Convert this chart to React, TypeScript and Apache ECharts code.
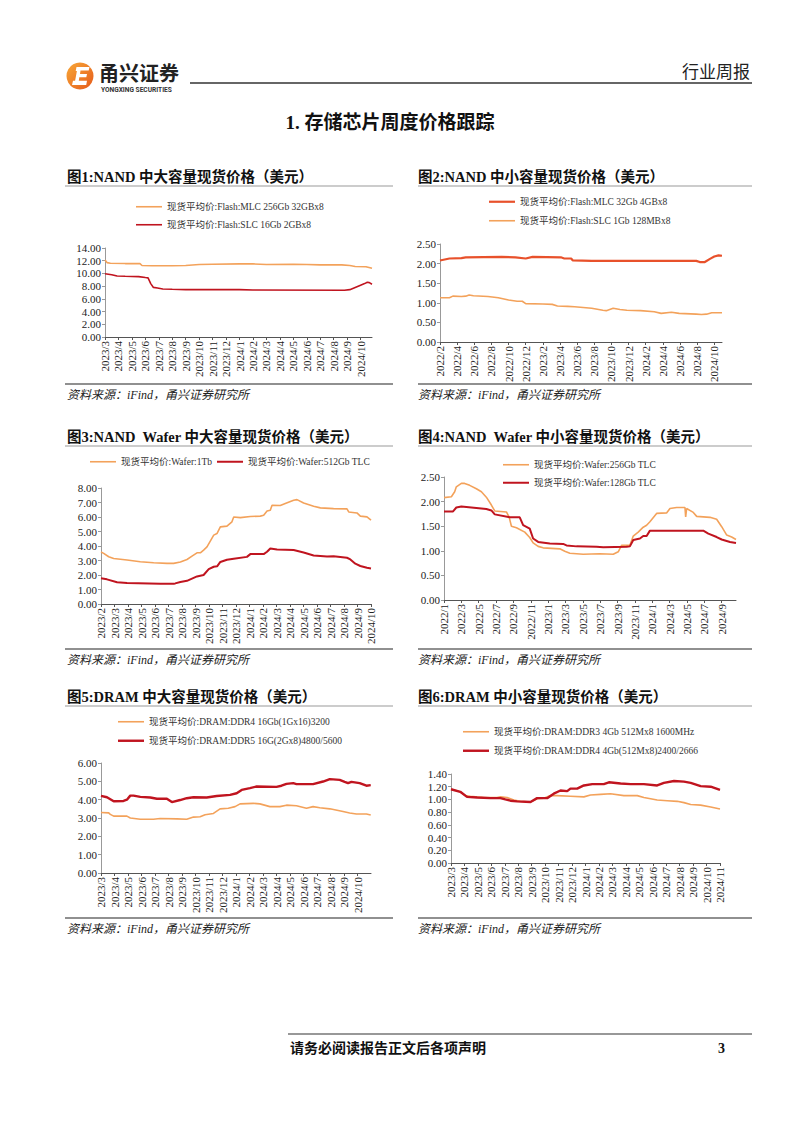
import React, { useEffect, useRef } from "react";
import * as echarts from "echarts";

const FONT = "'Liberation Serif', 'Noto Sans CJK SC', serif";
const ORANGE = "#F3A25B";
const RED = "#C0141F";
const RED_ORANGE = "#E8512B";

// ---------- Chart 1: NAND 中大容量 ----------
const c1Ticks = ["2023/3","2023/4","2023/5","2023/6","2023/7","2023/8","2023/9","2023/10","2023/11","2023/12","2024/1","2024/2","2024/3","2024/4","2024/5","2024/6","2024/7","2024/8","2024/9","2024/10"];
const c1Mlc = [[0,12.1],[0.15,11.7],[0.4,11.6],[1.5,11.55],[2.6,11.55],[2.75,11.25],[3.5,11.2],[5,11.2],[6,11.25],[7,11.4],[8,11.45],[10,11.5],[11,11.5],[12,11.4],[14,11.45],[15,11.4],[16,11.35],[17.6,11.35],[18.2,11.25],[18.6,11.1],[19.4,11.05],[19.85,10.8]];
const c1Slc = [[0,9.95],[0.5,9.8],[0.9,9.6],[1.5,9.55],[2.5,9.5],[3.0,9.35],[3.2,9.3],[3.4,8.4],[3.6,7.8],[3.9,7.7],[4.3,7.55],[5,7.5],[6,7.45],[10,7.45],[11,7.4],[17.8,7.35],[18.2,7.45],[18.6,7.8],[19.0,8.15],[19.3,8.4],[19.5,8.6],[19.65,8.55],[19.85,8.3]];

// ---------- Chart 2: NAND 中小容量 ----------
const c2Ticks = ["2022/2","2022/4","2022/6","2022/8","2022/10","2022/12","2023/2","2023/4","2023/6","2023/8","2023/10","2023/12","2024/2","2024/4","2024/6","2024/8","2024/10"];
const c2Mlc = [[0,2.08],[1.1,2.13],[2.5,2.14],[3,2.16],[7.2,2.17],[8.8,2.16],[10,2.13],[10.8,2.17],[14.1,2.16],[14.5,2.13],[15.3,2.13],[15.5,2.08],[17.7,2.07],[29.9,2.07],[30.3,2.04],[30.9,2.04],[31.5,2.12],[32,2.18],[32.5,2.21],[32.9,2.2]];
const c2Slc = [[0,1.13],[1.1,1.13],[1.5,1.17],[2.5,1.16],[3,1.17],[3.4,1.2],[3.9,1.18],[5.6,1.16],[6.8,1.13],[8,1.07],[9,1.04],[9.6,1.04],[10,0.98],[12,0.97],[13.1,0.96],[13.7,0.92],[14.9,0.91],[15.7,0.9],[17.7,0.86],[19,0.81],[19.4,0.8],[20.2,0.86],[21,0.83],[21.8,0.81],[23.4,0.8],[25,0.77],[25.8,0.73],[27,0.76],[27.9,0.73],[29.9,0.71],[30.5,0.7],[31.1,0.71],[31.7,0.745],[32.9,0.745]];

// ---------- Chart 3: NAND Wafer 中大容量 ----------
const c3Ticks = ["2023/2","2023/3","2023/4","2023/5","2023/6","2023/7","2023/8","2023/9","2023/10","2023/11","2023/12","2024/1","2024/2","2024/3","2024/4","2024/5","2024/6","2024/7","2024/8","2024/9","2024/10"];
const c3Tb1 = [[0,3.58],[0.2,3.49],[0.57,3.26],[0.94,3.14],[1.93,3.03],[2.91,2.91],[3.9,2.84],[4.89,2.8],[5.38,2.8],[5.88,2.9],[6.37,3.07],[6.74,3.3],[7.11,3.53],[7.36,3.53],[7.6,3.72],[7.85,3.94],[8.35,4.75],[8.59,4.86],[8.84,5.32],[9.33,5.37],[9.7,5.67],[9.83,6.0],[10.32,5.96],[11.06,6.03],[11.8,6.06],[12.05,6.12],[12.3,6.42],[12.54,6.47],[12.67,6.81],[13.28,6.79],[13.65,6.93],[14.27,7.16],[14.52,7.2],[15.01,6.97],[15.75,6.74],[16.25,6.63],[17.23,6.58],[18.22,6.56],[18.35,6.35],[18.96,6.28],[19.21,6.06],[19.7,6.01],[20,5.78]];
const c3Gb512 = [[0,1.77],[0.44,1.7],[1.19,1.5],[1.93,1.44],[4.4,1.4],[5.38,1.4],[5.5,1.42],[5.88,1.52],[6.37,1.6],[7.11,1.9],[7.6,2.0],[7.98,2.4],[8.35,2.57],[8.6,2.6],[8.84,2.9],[9.33,3.05],[9.83,3.12],[10.81,3.25],[11.06,3.44],[12.05,3.44],[12.3,3.6],[12.54,3.83],[13.04,3.76],[14.27,3.72],[15.01,3.55],[15.75,3.35],[16.74,3.28],[17.23,3.3],[18.22,3.19],[18.47,3.07],[18.84,2.78],[19.21,2.62],[19.7,2.5],[20,2.45]];

// ---------- Chart 4: NAND Wafer 中小容量 ----------
const c4Ticks = ["2022/1","2022/3","2022/5","2022/7","2022/9","2022/11","2023/1","2023/3","2023/5","2023/7","2023/9","2023/11","2024/1","2024/3","2024/5","2024/7","2024/9"];
const c4Gb256 = [[0,2.08],[0.85,2.1],[1.23,2.2],[1.42,2.3],[2.0,2.37],[2.38,2.37],[2.96,2.33],[3.73,2.26],[4.31,2.2],[4.88,2.09],[5.46,1.93],[5.85,1.81],[7.19,1.79],[7.5,1.69],[7.77,1.5],[8.35,1.47],[9.31,1.38],[9.88,1.27],[10.27,1.16],[10.85,1.09],[11.42,1.06],[13.35,1.04],[13.92,0.99],[14.5,0.95],[16.04,0.93],[17.96,0.94],[19.5,0.93],[20.08,0.98],[20.46,1.11],[21.42,1.11],[21.81,1.3],[22.38,1.38],[22.96,1.48],[23.35,1.52],[23.73,1.59],[24.5,1.76],[25.65,1.77],[26.04,1.86],[26.81,1.88],[27.77,1.88],[27.85,1.69],[27.96,1.86],[28.73,1.78],[29.12,1.7],[30.65,1.68],[31.42,1.64],[32.0,1.49],[32.58,1.32],[33.15,1.28],[33.65,1.23]];
const c4Gb128 = [[0,1.8],[1.04,1.8],[1.42,1.88],[2.0,1.9],[3.73,1.87],[4.88,1.85],[5.46,1.82],[5.85,1.74],[7.58,1.68],[8.73,1.68],[9.12,1.52],[9.88,1.45],[10.27,1.25],[10.85,1.18],[12.19,1.15],[13.73,1.14],[14.12,1.11],[15.27,1.09],[17.58,1.08],[18.35,1.07],[21.04,1.08],[21.42,1.09],[21.81,1.22],[22.58,1.25],[22.96,1.3],[23.35,1.3],[23.73,1.41],[29.88,1.41],[30.46,1.35],[31.42,1.28],[32.0,1.23],[32.96,1.18],[33.65,1.16]];

// ---------- Chart 5: DRAM 中大容量 ----------
const c5Ticks = ["2023/3","2023/4","2023/5","2023/6","2023/7","2023/8","2023/9","2023/10","2023/11","2023/12","2024/1","2024/2","2024/3","2024/4","2024/5","2024/6","2024/7","2024/8","2024/9","2024/10"];
const c5Ddr4 = [[0,3.3],[0.57,3.28],[0.69,3.2],[0.94,3.1],[1.92,3.1],[2.17,3.0],[2.91,2.93],[3.89,2.93],[4.38,2.97],[5.62,2.95],[6.35,2.93],[6.85,3.05],[7.34,3.07],[7.71,3.18],[8.33,3.25],[8.82,3.5],[9.43,3.53],[9.93,3.62],[10.3,3.77],[11.28,3.8],[11.77,3.77],[12.51,3.62],[13.25,3.62],[13.74,3.7],[14.48,3.67],[15.22,3.53],[15.71,3.62],[16.21,3.56],[16.95,3.5],[17.93,3.35],[18.42,3.27],[18.92,3.22],[19.66,3.22],[19.98,3.16]];
const c5Ddr5 = [[0,4.21],[0.44,4.13],[0.69,4.02],[0.94,3.91],[1.67,3.93],[1.92,4.0],[2.17,4.22],[2.41,4.22],[2.91,4.15],[3.65,4.12],[4.14,4.05],[4.88,4.05],[5.25,3.87],[5.86,3.98],[6.35,4.08],[6.85,4.13],[7.83,4.12],[8.57,4.2],[9.56,4.26],[10.05,4.35],[10.42,4.53],[11.03,4.63],[11.53,4.72],[13.0,4.7],[13.37,4.76],[13.74,4.86],[14.24,4.9],[14.48,4.85],[15.71,4.85],[16.45,4.99],[16.95,5.12],[17.68,5.08],[18.05,4.97],[18.3,4.9],[18.55,4.97],[19.16,4.9],[19.66,4.76],[19.98,4.79]];

// ---------- Chart 6: DRAM 中小容量 ----------
const c6Ticks = ["2023/3","2023/4","2023/5","2023/6","2023/7","2023/8","2023/9","2023/10","2023/11","2023/12","2024/1","2024/2","2024/3","2024/4","2024/5","2024/6","2024/7","2024/8","2024/9","2024/10","2024/11"];
const c6Ddr3 = [[0,1.16],[0.69,1.12],[1.07,1.06],[1.44,1.05],[2.43,1.03],[3.42,1.03],[3.67,1.04],[4.17,1.03],[4.67,0.99],[5.16,0.97],[5.91,0.96],[6.4,1.01],[6.9,1.02],[7.39,1.06],[7.89,1.06],[8.88,1.05],[9.88,1.04],[10.37,1.07],[11.12,1.08],[11.86,1.09],[12.85,1.06],[13.85,1.06],[14.34,1.03],[15.33,0.99],[16.08,0.98],[16.82,0.97],[17.32,0.95],[17.82,0.92],[18.56,0.91],[19.31,0.88],[20,0.85]];
const c6Ddr4 = [[0,1.16],[0.69,1.12],[1.19,1.04],[1.94,1.03],[2.93,1.02],[3.67,1.02],[4.04,1.0],[4.42,0.98],[4.91,0.97],[5.91,0.96],[6.4,1.02],[7.15,1.02],[7.64,1.09],[8.14,1.14],[8.64,1.13],[8.88,1.17],[9.38,1.17],[9.88,1.22],[10.5,1.24],[11.36,1.24],[11.74,1.27],[12.61,1.25],[13.35,1.24],[14.34,1.24],[15.33,1.22],[15.83,1.26],[16.58,1.29],[17.32,1.28],[17.82,1.26],[18.56,1.21],[19.31,1.2],[20,1.15]];

const panels = [
  { left: 105, top: 248, width: 267, height: 89, xMax: 19.85, xStep: 1, ticks: c1Ticks, yMax: 14, yStep: 2,
    series: [
      { name: "现货平均价:Flash:MLC 256Gb 32GBx8", data: c1Mlc, color: ORANGE, width: 1.6, lx: 136, ly: 208 },
      { name: "现货平均价:Flash:SLC 16Gb 2GBx8", data: c1Slc, color: RED, width: 1.6, lx: 136, ly: 226 },
    ] },
  { left: 440, top: 244, width: 282, height: 98, xMax: 32.9, xStep: 2, ticks: c2Ticks, yMax: 2.5, yStep: 0.5,
    series: [
      { name: "现货平均价:Flash:MLC 32Gb 4GBx8", data: c2Mlc, color: RED_ORANGE, width: 2.2, lx: 489, ly: 203 },
      { name: "现货平均价:Flash:SLC 1Gb 128MBx8", data: c2Slc, color: ORANGE, width: 1.6, lx: 489, ly: 222 },
    ] },
  { left: 101, top: 488, width: 270, height: 116, xMax: 20, xStep: 1, ticks: c3Ticks, yMax: 8, yStep: 1,
    series: [
      { name: "现货平均价:Wafer:1Tb", data: c3Tb1, color: ORANGE, width: 1.6, lx: 90, ly: 463 },
      { name: "现货平均价:Wafer:512Gb TLC", data: c3Gb512, color: RED, width: 2, lx: 217, ly: 463 },
    ] },
  { left: 444, top: 477, width: 292, height: 123, xMax: 33.65, xStep: 2, ticks: c4Ticks, yMax: 2.5, yStep: 0.5,
    series: [
      { name: "现货平均价:Wafer:256Gb TLC", data: c4Gb256, color: ORANGE, width: 1.6, lx: 503, ly: 466 },
      { name: "现货平均价:Wafer:128Gb TLC", data: c4Gb128, color: RED, width: 2, lx: 503, ly: 484 },
    ] },
  { left: 101, top: 763, width: 270, height: 110, xMax: 20, xStep: 1, ticks: c5Ticks, yMax: 6, yStep: 1,
    series: [
      { name: "现货平均价:DRAM:DDR4 16Gb(1Gx16)3200", data: c5Ddr4, color: ORANGE, width: 1.6, lx: 118, ly: 723 },
      { name: "现货平均价:DRAM:DDR5 16G(2Gx8)4800/5600", data: c5Ddr5, color: RED, width: 2.4, lx: 118, ly: 742 },
    ] },
  { left: 451, top: 774, width: 269, height: 89, xMax: 20, xStep: 1, ticks: c6Ticks, yMax: 1.4, yStep: 0.2,
    series: [
      { name: "现货平均价:DRAM:DDR3 4Gb 512Mx8 1600MHz", data: c6Ddr3, color: ORANGE, width: 1.6, lx: 463, ly: 733 },
      { name: "现货平均价:DRAM:DDR4 4Gb(512Mx8)2400/2666", data: c6Ddr4, color: RED, width: 2.4, lx: 463, ly: 752 },
    ] },
];

const chartTitles = [
  { text: "图1:NAND 中大容量现货价格（美元）", x: 67, y: 177 },
  { text: "图2:NAND 中小容量现货价格（美元）", x: 418, y: 177 },
  { text: "图3:NAND  Wafer 中大容量现货价格（美元）", x: 67, y: 437 },
  { text: "图4:NAND  Wafer 中小容量现货价格（美元）", x: 418, y: 437 },
  { text: "图5:DRAM 中大容量现货价格（美元）", x: 67, y: 697 },
  { text: "图6:DRAM 中小容量现货价格（美元）", x: 418, y: 697 },
];
const titleLineYs = [186, 446, 706];
const sourceLineYs = [384, 649, 918];
const sourceText = "资料来源：iFind，甬兴证券研究所";

const LOGO_E = "M6,1 L19,1 L18.2,4.6 L10,4.6 L9.5,7.9 L16.5,7.9 L15.8,11.3 L8.8,11.3 L8.3,14.7 L16.5,14.7 L15.7,19 L1.5,19 L2.5,14.7 L4.6,14.7 L6.4,5 L5.2,5 Z";

export default function App() {
  const ref = useRef<HTMLDivElement>(null);
  useEffect(() => {
    if (!ref.current) return;
    try {
      echarts.graphic.registerShape("logoE", echarts.graphic.extendPath(LOGO_E, {}) as any);
    } catch (e) {}
    const chart = echarts.init(ref.current, undefined, { renderer: "svg" });

    const grid: any[] = [];
    const xAxis: any[] = [];
    const yAxis: any[] = [];
    const series: any[] = [];
    const legend: any[] = [];

    panels.forEach((p, i) => {
      grid.push({ left: p.left, top: p.top, width: p.width, height: p.height, containLabel: false });
      const tickVals = p.ticks.map((_, k) => k * p.xStep);
      xAxis.push({
        gridIndex: i, type: "value", min: 0, max: p.xMax, interval: p.xStep,
        axisLine: { show: true, onZero: false, lineStyle: { color: "#555", width: 1 } },
        axisTick: { show: true, length: 3, customValues: tickVals, lineStyle: { color: "#555" } },
        axisLabel: {
          customValues: tickVals, rotate: 90, margin: 4, fontSize: 11, fontFamily: FONT, color: "#222",
          formatter: (v: number) => {
            const k = Math.round(v / p.xStep);
            return Math.abs(k * p.xStep - v) < 1e-6 && p.ticks[k] ? p.ticks[k] : "";
          },
        },
        splitLine: { show: false },
      });
      yAxis.push({
        gridIndex: i, type: "value", min: 0, max: p.yMax, interval: p.yStep,
        axisLine: { show: true, lineStyle: { color: "#999", width: 1 } },
        axisTick: { show: true, length: 3, lineStyle: { color: "#999" } },
        axisLabel: { margin: 4, fontSize: 11, fontFamily: FONT, color: "#222", formatter: (v: number) => v.toFixed(2) },
        splitLine: { show: false },
      });
      p.series.forEach((s) => {
        series.push({
          type: "line", name: s.name, xAxisIndex: i, yAxisIndex: i, data: s.data,
          symbol: "none", showSymbol: false, smooth: false,
          lineStyle: { color: s.color, width: s.width },
          itemStyle: { color: s.color },
        });
        legend.push({
          data: [{ name: s.name, icon: "rect" }],
          left: s.lx, top: s.ly - 6, orient: "horizontal",
          itemWidth: 26, itemHeight: s.width, padding: 0, itemGap: 0,
          selectedMode: false,
          itemStyle: { color: s.color },
          textStyle: { fontSize: 9.5, fontFamily: FONT, color: "#333" },
        });
      });
    });

    const graphic: any[] = [];
    // header logo
    graphic.push({
      type: "circle", shape: { cx: 80, cy: 76, r: 13.5 },
      style: { fill: new echarts.graphic.LinearGradient(0, 0, 1, 1, [
        { offset: 0, color: "#F8A838" }, { offset: 1, color: "#E55A1A" }]) },
    });
    graphic.push({ type: "logoE", x: 70.5, y: 66, scaleX: 1, scaleY: 1, style: { fill: "#fff" } });
    graphic.push({ type: "text", style: { text: "甬兴证券", x: 99, y: 72, font: "bold 20px 'Noto Sans CJK SC'", fill: "#222", textVerticalAlign: "middle" } });
    graphic.push({ type: "text", style: { text: "YONGXING SECURITIES", x: 101, y: 90, font: "bold 6.6px Roboto", fill: "#333", textVerticalAlign: "middle" } });
    graphic.push({ type: "line", shape: { x1: 190, y1: 83, x2: 752, y2: 83 }, style: { stroke: "#333", lineWidth: 1.6 } });
    graphic.push({ type: "text", style: { text: "行业周报", x: 750, y: 70, font: "17px 'Noto Sans CJK SC'", fill: "#222", textAlign: "right", textVerticalAlign: "middle" } });
    // main title
    graphic.push({ type: "text", style: { text: "1. 存储芯片周度价格跟踪", x: 390, y: 122, font: `bold 19px ${FONT}`, fill: "#111", textAlign: "center", textVerticalAlign: "middle" } });
    // chart titles
    chartTitles.forEach((t) => {
      graphic.push({ type: "text", style: { text: t.text, x: t.x, y: t.y, font: `bold 14.5px ${FONT}`, fill: "#111", textVerticalAlign: "middle" } });
    });
    titleLineYs.forEach((y) => {
      graphic.push({ type: "line", shape: { x1: 65, y1: y, x2: 393, y2: y }, style: { stroke: "#999", lineWidth: 1 } });
      graphic.push({ type: "line", shape: { x1: 418, y1: y, x2: 752, y2: y }, style: { stroke: "#999", lineWidth: 1 } });
    });
    sourceLineYs.forEach((y) => {
      graphic.push({ type: "line", shape: { x1: 65, y1: y, x2: 393, y2: y }, style: { stroke: "#222", lineWidth: 1.2 } });
      graphic.push({ type: "line", shape: { x1: 418, y1: y, x2: 752, y2: y }, style: { stroke: "#222", lineWidth: 1.2 } });
      graphic.push({ type: "text", style: { text: sourceText, x: 67, y: y + 11, font: `italic 12px ${FONT}`, fill: "#222", textVerticalAlign: "middle" } });
      graphic.push({ type: "text", style: { text: sourceText, x: 418, y: y + 11, font: `italic 12px ${FONT}`, fill: "#222", textVerticalAlign: "middle" } });
    });
    // footer
    graphic.push({ type: "line", shape: { x1: 288, y1: 1034, x2: 752, y2: 1034 }, style: { stroke: "#333", lineWidth: 1.2 } });
    graphic.push({ type: "text", style: { text: "请务必阅读报告正文后各项声明", x: 290, y: 1048, font: `bold 14px ${FONT}`, fill: "#111", textVerticalAlign: "middle" } });
    graphic.push({ type: "text", style: { text: "3", x: 718, y: 1048, font: `bold 14px ${FONT}`, fill: "#111", textVerticalAlign: "middle" } });

    chart.setOption({
      animation: false,
      backgroundColor: "#ffffff",
      grid, xAxis, yAxis, series, legend, graphic,
    });
    return () => chart.dispose();
  }, []);

  return <div ref={ref} style={{ position: "absolute", left: 0, top: 0, width: 802, height: 1133, background: "#fff" }} />;
}
